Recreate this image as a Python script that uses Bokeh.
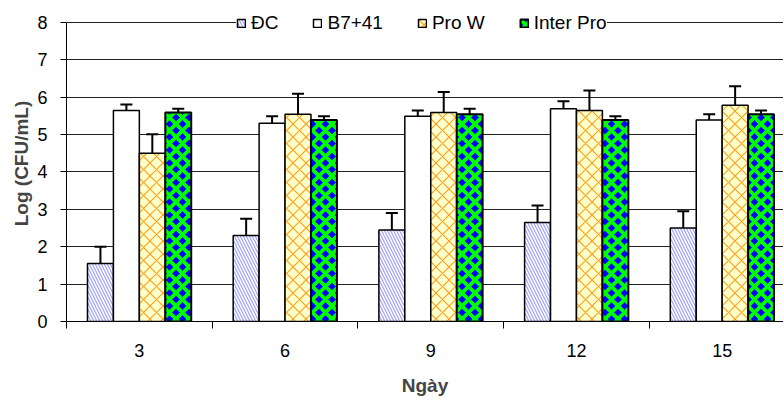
import numpy as np
from bokeh.plotting import figure
from bokeh.models import (ColumnDataSource, Range1d, FixedTicker, Whisker, TeeHead,
                          Legend, LegendItem)
from bokeh.embed import file_html
from bokeh.resources import INLINE

# ---- data ----
days = ["3", "6", "9", "12", "15"]
series = ["ĐC", "B7+41", "Pro W", "Inter Pro"]
dc = [1.55, 2.30, 2.45, 2.65, 2.50]
dc_err = [0.45, 0.45, 0.45, 0.45, 0.45]
b7 = [5.64, 5.30, 5.49, 5.69, 5.39]
b7_err = [0.16, 0.19, 0.15, 0.20, 0.15]
prow = [4.50, 5.54, 5.59, 5.64, 5.78]
prow_err = [0.51, 0.55, 0.55, 0.54, 0.51]
inter = [5.59, 5.39, 5.54, 5.39, 5.54]
inter_err = [0.10, 0.10, 0.15, 0.10, 0.10]
y_ticks = [0, 1, 2, 3, 4, 5, 6, 7, 8]

FONT = "Liberation Sans"

p = figure(width=783, height=402, output_backend="svg", toolbar_location=None,
           x_range=Range1d(0, 4.921), y_range=Range1d(0, 8.45),
           min_border_left=66, min_border_top=5, min_border_right=0,
           min_border_bottom=81)
p.outline_line_color = None
p.background_fill_color = "white"
p.border_fill_color = "white"

# grid
p.xgrid.grid_line_color = None
p.ygrid.grid_line_color = "#222222"
p.ygrid.grid_line_width = 1
p.ygrid.ticker = FixedTicker(ticks=y_ticks)

# y axis
p.yaxis.ticker = FixedTicker(ticks=y_ticks)
p.yaxis.bounds = (0, 8)
p.yaxis.axis_line_color = "black"
p.yaxis.major_tick_in = 0
p.yaxis.major_tick_out = 6
p.yaxis.minor_tick_line_color = None
p.yaxis.major_label_standoff = 13
p.yaxis.major_label_text_font = FONT
p.yaxis.major_label_text_font_size = "18px"
p.yaxis.major_label_text_color = "black"
p.yaxis.axis_label = "Log (CFU/mL)"
p.yaxis.axis_label_text_font = FONT
p.yaxis.axis_label_text_font_style = "bold"
p.yaxis.axis_label_text_font_size = "19px"
p.yaxis.axis_label_standoff = 2

# x axis: labels at group centres, tick marks at group boundaries (minor ticks)
centers = [i + 0.5 for i in range(len(days))]
p.xaxis.ticker = FixedTicker(ticks=centers, minor_ticks=list(range(len(days) + 1)))
p.xaxis.major_label_overrides = {c: d for c, d in zip(centers, days)}
p.xaxis.major_tick_in = 0
p.xaxis.major_tick_out = 0
p.xaxis.minor_tick_in = 0
p.xaxis.minor_tick_out = 7
p.xaxis.minor_tick_line_color = "black"
p.xaxis.axis_line_color = "black"
p.xaxis.major_label_standoff = 15
p.xaxis.major_label_text_font = FONT
p.xaxis.major_label_text_font_size = "18px"
p.xaxis.major_label_text_color = "black"
p.xaxis.axis_label = "Ngày"
p.xaxis.axis_label_text_font = FONT
p.xaxis.axis_label_text_font_style = "bold"
p.xaxis.axis_label_text_font_size = "19px"
p.xaxis.axis_label_standoff = 15

bw = 0.178
offsets = [-1.5 * bw, -0.5 * bw, 0.5 * bw, 1.5 * bw]
vals = [dc, b7, prow, inter]
errs = [dc_err, b7_err, prow_err, inter_err]
styles = [
    dict(fill_color="white", hatch_pattern="\\", hatch_color="#A0A0FF",
         hatch_scale=6, hatch_weight=1.2, line_width=1.5),
    dict(fill_color="white", line_width=1.5),
    dict(fill_color="#FFFFCC", hatch_pattern="x", hatch_color="#FFA020",
         hatch_scale=13, hatch_weight=1.2, line_width=1.5),
    dict(fill_color="#0000FF", hatch_pattern="x", hatch_color="#00FF00",
         hatch_scale=13, hatch_weight=3.8, line_width=2),
]

items = []
for name, v, e, off, st in zip(series, vals, errs, offsets, styles):
    x = np.arange(len(days)) + 0.5 + off
    src = ColumnDataSource(dict(x=x, top=v, upper=np.array(v) + np.array(e)))
    r = p.vbar(x="x", top="top", bottom=0, width=bw, source=src,
               line_color="black", **st)
    items.append(LegendItem(label=name, renderers=[r]))
    w = Whisker(source=src, base="x", lower="top", upper="upper",
                dimension="height", line_color="black", line_width=2,
                lower_head=None,
                upper_head=TeeHead(size=12, line_color="black", line_width=2))
    p.add_layout(w)

legend = Legend(items=items, orientation="horizontal", location=(170, 287),
                glyph_width=10, glyph_height=10, label_standoff=5, spacing=34,
                padding=3, margin=0, border_line_color=None,
                background_fill_color="white", background_fill_alpha=1.0,
                label_text_font=FONT, label_text_font_size="19px",
                label_text_color="black")
p.add_layout(legend, "center")

open("out.html", "w").write(file_html(p, INLINE))
